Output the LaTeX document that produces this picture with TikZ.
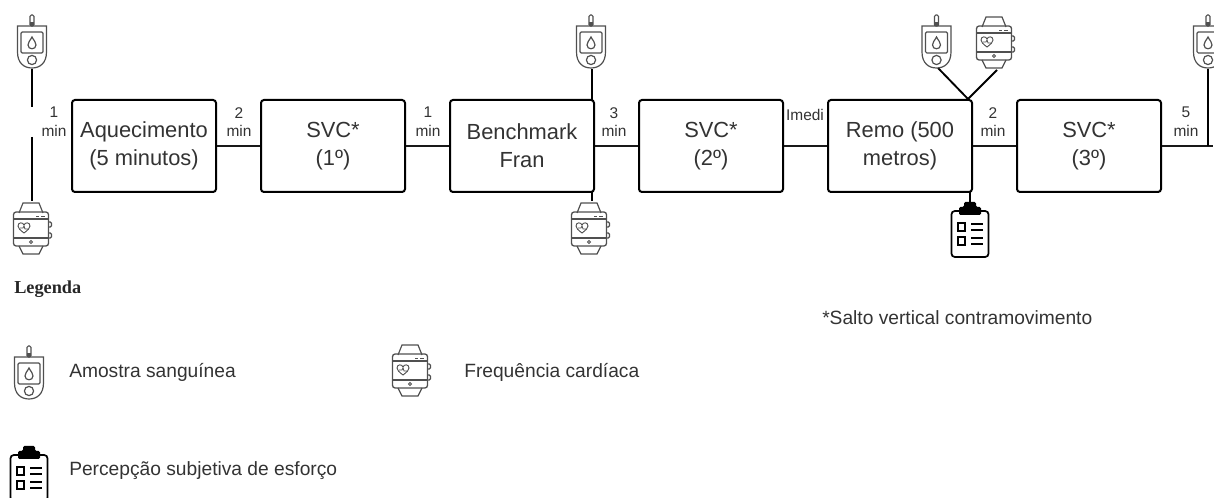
\documentclass[tikz,border=0pt]{standalone}
\usepackage{fontspec}
\setmainfont{Liberation Sans}
\newfontfamily\legfont{Liberation Serif}
\definecolor{txt}{HTML}{333333}
\definecolor{icon}{HTML}{505050}
\tikzset{
  x=0.75pt,y=-0.75pt,
  stagebox/.style={draw=black,line width=1.5pt,rounded corners=2.2pt,minimum width=108pt,minimum height=69pt,inner sep=0pt,align=center,font=\fontsize{16.4}{21}\selectfont,text=txt,fill=white},
  conn/.style={draw=black!90,line width=1.1pt},
  connv/.style={draw=black,line width=1.4pt},
  tlabel/.style={align=center,font=\fontsize{11.6}{14}\selectfont,text=txt,inner sep=0pt},
  legtext/.style={anchor=west,font=\fontsize{14.4}{17}\selectfont,text=txt,inner sep=0pt},
  gluco/.pic={
    \draw[icon,line width=0.8pt,rounded corners=1pt] (-2,-16) rectangle (2,-27);
    \fill[icon] (-2.2,-20) rectangle (2.2,-16);
    \draw[icon,line width=0.9pt] (-14.5,-16) -- (14.5,-16) -- (14.5,10) .. controls (14.5,21) and (8,26) .. (0,26) .. controls (-8,26) and (-14.5,21) .. (-14.5,10) -- cycle;
    \draw[icon,line width=0.9pt,rounded corners=1pt] (-11,-10) rectangle (11,11);
    \draw[icon,line width=0.9pt] (0,-5) .. controls (2,-1) and (4,0) .. (4,3) .. controls (4,8) and (-4,8) .. (-4,3) .. controls (-4,0) and (-2,-1) .. (0,-5) -- cycle;
    \draw[icon,line width=0.9pt] (0,18) circle (4.6);
  },
  watchicon/.pic={
    \draw[icon,line width=0.9pt] (-12,-15) -- (-8,-25) -- (8,-25) -- (12,-15);
    \draw[icon,line width=0.9pt] (-12,18) -- (-8,26) -- (8,26) -- (12,18);
    \draw[icon,line width=1pt,rounded corners=2pt] (-17.5,-16) rectangle (17.5,18);
    \draw[icon,line width=0.8pt] (-17.5,-9) -- (17.5,-9) (-17.5,10) -- (17.5,10);
    \draw[icon,line width=0.6pt] (5,-12) -- (8,-12) (10,-12) -- (14,-12);
    \draw[icon,line width=0.7pt] (0,14) circle (1.5);
    \draw[icon,line width=0.9pt,rounded corners=1pt] (17.5,-6) -- (20.5,-6) -- (20.5,-1) -- (17.5,-1) (17.5,5) -- (20.5,5) -- (20.5,10) -- (17.5,10);
    \draw[icon,line width=0.7pt] (-7,5) .. controls (-11,2) and (-13,0) .. (-13,-2) .. controls (-13,-6) and (-8,-6) .. (-7,-3) .. controls (-6,-6) and (-1,-6) .. (-1,-2) .. controls (-1,0) and (-3,2) .. (-7,5) -- cycle;
    \draw[icon,line width=0.6pt] (-11,0) -- (-8,0) -- (-7,-2) -- (-6,1) -- (-3,1);
  },
  clipicon/.pic={
    \draw[black,line width=1.3pt,rounded corners=2.5pt] (-10,-19) -- (-18.5,-19) -- (-18.5,27) -- (18.5,27) -- (18.5,-19) -- (11,-19);
    \fill[black,rounded corners=1pt] (-11,-15) -- (-11,-23) -- (-6,-23) -- (-6,-28) -- (6,-28) -- (6,-23) -- (11,-23) -- (11,-15) -- cycle;
    \draw[black,line width=1pt] (-12,-7) rectangle (-5,1) (-12,7) rectangle (-5,15);
    \draw[black,line width=1pt] (1,-6) -- (13,-6) (1,0) -- (13,0) (1,8) -- (13,8) (1,14) -- (13,14);
  },
}
\begin{document}
\begin{tikzpicture}
\useasboundingbox (0,0) rectangle (1214,498);
% boxes
\node[stagebox] (aq) at (144,146) {Aquecimento\\(5 minutos)};
\node[stagebox] (s1) at (333,146) {SVC*\\(1º)};
\node[stagebox] (bf) at (522,146) {Benchmark\\Fran};
\node[stagebox] (s2) at (711,146) {SVC*\\(2º)};
\node[stagebox] (rm) at (900,146) {Remo (500\\metros)};
\node[stagebox] (s3) at (1089,146) {SVC*\\(3º)};
% icon anchors and connector ends
\coordinate (g0) at (32,42);
\coordinate (w0) at (31,228);
\coordinate (g1) at (591,42);
\coordinate (w1) at (589,228);
\coordinate (g2) at (936.5,42);
\coordinate (w2) at (994,42);
\coordinate (c2) at (970,230);
\coordinate (g3) at (1208,42);
\coordinate (g0b) at (31.7,69);
\coordinate (gapa) at (31.7,107);
\coordinate (gapb) at (31.7,137);
\coordinate (w0t) at (31.7,201);
\coordinate (g1b) at (592,69);
\coordinate (bft) at (592,100);
\coordinate (bfb) at (592,192);
\coordinate (w1t) at (592,201);
\coordinate (g2b) at (938,68);
\coordinate (w2b) at (997,70);
\coordinate (ja) at (968,99);
\coordinate (rmb) at (970,192);
\coordinate (c2t) at (970,203);
\coordinate (g3b) at (1208,69);
\coordinate (j0) at (1208,146);
\coordinate (endr) at (1213,146);
% connectors
\draw[conn] (aq.east) -- (s1.west);
\draw[conn] (s1.east) -- (bf.west);
\draw[conn] (bf.east) -- (s2.west);
\draw[conn] (s2.east) -- (rm.west);
\draw[conn] (rm.east) -- (s3.west);
\draw[conn] (s3.east) -- (endr);
\draw[connv] (g0b) -- (gapa);
\draw[connv] (gapb) -- (w0t);
\draw[connv] (g1b) -- (bft);
\draw[connv] (bfb) -- (w1t);
\draw[connv] (g2b) -- (ja);
\draw[connv] (w2b) -- (ja);
\draw[connv] (g3b) -- (j0);
\draw[connv] (rmb) -- (c2t);
% icons
\pic at (g0) {gluco};
\pic at (w0) {watchicon};
\pic at (g1) {gluco};
\pic at (w1) {watchicon};
\pic at (g2) {gluco};
\pic at (w2) {watchicon};
\pic at (g3) {gluco};
\pic at (c2) {clipicon};
% time labels
\node[tlabel] (t0) at (54,122) {1\\min};
\node[tlabel] (t1) at (239,122) {2\\min};
\node[tlabel] (t2) at (428,122) {1\\min};
\node[tlabel] (t3) at (614,122) {3\\min};
\node[tlabel] (t4) at (805,115) {Imedi};
\node[tlabel] (t5) at (993,122) {2\\min};
\node[tlabel] (t6) at (1186,122) {5\\min};
% legend
\node[anchor=west,inner sep=0pt,font=\legfont\bfseries\fontsize{13.7}{16}\selectfont,text=black!85] (leg) at (14,289) {Legenda};
\node[anchor=west,inner sep=0pt,font=\fontsize{14.4}{17}\selectfont,text=txt] (note) at (822,318) {*Salto vertical contramovimento};
\coordinate (lg) at (29,373);
\coordinate (lw) at (410,370);
\coordinate (lc) at (29,474);
\pic at (lg) {gluco};
\pic at (lw) {watchicon};
\pic at (lc) {clipicon};
\node[legtext] (l1) at (69,372) {Amostra sanguínea};
\node[legtext] (l2) at (464,372) {Frequência cardíaca};
\node[legtext] (l3) at (69,471) {Percepção subjetiva de esforço};
\end{tikzpicture}
\end{document}
